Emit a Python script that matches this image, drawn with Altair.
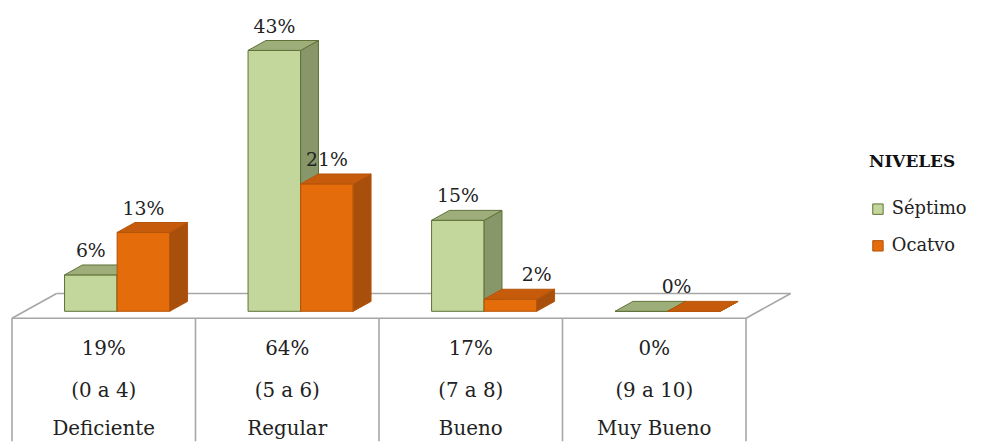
import altair as alt
import pandas as pd

# ---------------- data ----------------
categories = ["Deficiente", "Regular", "Bueno", "Muy Bueno"]
ranges = ["(0 a 4)", "(5 a 6)", "(7 a 8)", "(9 a 10)"]
totals = ["19%", "64%", "17%", "0%"]
series = ["Séptimo", "Ocatvo"]
septimo = [6, 43, 15, 0]
ocatvo = [13, 21, 2, 0]

# ---------------- layout constants ----------------
W, H = 994, 435
PX_X = 185.0                 # pixels per category slot
PX_Y = 263.0 / 43.0          # pixels per percentage point
X0_PAGE = 12.0               # page x of the table's left edge
Y0_PAGE = 312.0              # page y of the bars' base
x_dom = [(8 - X0_PAGE) / PX_X, (8 + W - X0_PAGE) / PX_X]
y_dom = [(Y0_PAGE - (8 + H)) / PX_Y, (Y0_PAGE - 8) / PX_Y]

BAR_OFF = 53 / PX_X
BAR_W = 53 / PX_X
DEPTH_X = 18 / PX_X
DEPTH_Y = 10 / PX_Y
FLOOR_FRONT = (Y0_PAGE - 319) / PX_Y
FLOOR_BACK = (Y0_PAGE - 294) / PX_Y
FLOOR_SHIFT = 45 / PX_X
ROW_Y = [(Y0_PAGE - 350) / PX_Y, (Y0_PAGE - 392) / PX_Y, (Y0_PAGE - 431) / PX_Y]

FRONT = ["#C3D69B", "#E46C0A"]
SIDE = ["#87976A", "#A84F0B"]
TOP = ["#9DAE7B", "#C65C0B"]
EDGE = ["#5E7036", "#B4540A"]
GRID = "#A6A6A6"
TXT = "#222222"
FONT = "DejaVu Serif"

xs = alt.Scale(domain=x_dom, nice=False, zero=False)
ys = alt.Scale(domain=y_dom, nice=False, zero=False)

# bar table
rows = []
for i, c in enumerate(categories):
    for j, (s, vals) in enumerate(zip(series, [septimo, ocatvo])):
        rows.append({"cat": c, "ci": i, "series": s, "sj": j, "value": vals[i]})
bars = pd.DataFrame(rows)

table = pd.DataFrame({"cat": categories, "ci": list(range(len(categories))),
                      "total": totals, "range": ranges})

n = len(categories)
floor_edges = pd.DataFrame([
    {"xa": 0, "ya": FLOOR_FRONT, "xb": n, "yb": FLOOR_FRONT},
    {"xa": FLOOR_SHIFT, "ya": FLOOR_BACK, "xb": n + FLOOR_SHIFT, "yb": FLOOR_BACK},
    {"xa": 0, "ya": FLOOR_FRONT, "xb": FLOOR_SHIFT, "yb": FLOOR_BACK},
    {"xa": n, "ya": FLOOR_FRONT, "xb": n + FLOOR_SHIFT, "yb": FLOOR_BACK},
])

floor = alt.Chart(floor_edges).mark_rule(color=GRID, strokeWidth=1.6).encode(
    x=alt.X("xa:Q", scale=xs, axis=None), y=alt.Y("ya:Q", scale=ys, axis=None),
    x2="xb:Q", y2="yb:Q")

cols = alt.Chart(alt.sequence(0, n + 1, as_="col")).transform_calculate(
    ya=str(FLOOR_FRONT), yb=str(y_dom[0])
).mark_rule(color=GRID, strokeWidth=1.6).encode(
    x=alt.X("col:Q", scale=xs, axis=None), y=alt.Y("ya:Q", scale=ys, axis=None), y2="yb:Q")

def table_row(field, yv):
    return alt.Chart(table).transform_calculate(
        tx="datum.ci + 0.5", ty=str(yv)
    ).mark_text(font=FONT, fontSize=20, color=TXT, baseline="middle", align="center").encode(
        x=alt.X("tx:Q", scale=xs, axis=None), y=alt.Y("ty:Q", scale=ys, axis=None),
        text=f"{field}:N")

layers = [floor, cols,
          table_row("total", ROW_Y[0]), table_row("range", ROW_Y[1]), table_row("cat", ROW_Y[2])]

base = alt.Chart(bars).transform_calculate(
    x0=f"datum.ci + {BAR_OFF} + datum.sj * {BAR_W}"
).transform_calculate(
    x1=f"datum.x0 + {BAR_W}"
)

for j, s in enumerate(series):
    b = base.transform_filter(f"datum.sj == {j}")
    front = b.transform_calculate(zero="0").mark_rect(strokeWidth=1).encode(
        x=alt.X("x0:Q", scale=xs, axis=None), x2="x1:Q",
        y=alt.Y("zero:Q", scale=ys, axis=None), y2="value:Q",
        fill=alt.Fill("series:N", scale=alt.Scale(domain=series, range=FRONT),
                      sort=series, title="NIVELES"),
        stroke=alt.Stroke("series:N", scale=alt.Scale(domain=series, range=EDGE),
                          sort=series, title="NIVELES"),
    )
    two = b.transform_calculate(k="[0, 1]").transform_flatten(["k"])
    side = two.transform_calculate(
        sx=f"datum.x1 + datum.k * {DEPTH_X}",
        st=f"datum.value + datum.k * {DEPTH_Y}",
        sb=f"datum.k * {DEPTH_Y}",
    ).mark_area(orient="vertical", fill=SIDE[j], stroke=EDGE[j], strokeWidth=1).encode(
        x=alt.X("sx:Q", scale=xs, axis=None),
        y=alt.Y("st:Q", scale=ys, axis=None), y2="sb:Q",
        detail="cat:N")
    top = two.transform_calculate(
        ta=f"datum.x0 + datum.k * {DEPTH_X}",
        tb=f"datum.x1 + datum.k * {DEPTH_X}",
        ty=f"datum.value + datum.k * {DEPTH_Y}",
    ).mark_area(orient="horizontal", fill=TOP[j], stroke=EDGE[j], strokeWidth=1).encode(
        y=alt.Y("ty:Q", scale=ys, axis=None),
        x=alt.X("ta:Q", scale=xs, axis=None), x2="tb:Q",
        detail="cat:N")
    layers += [front, side, top]

labels = base.transform_filter("datum.value > 0 || datum.sj == 1").transform_calculate(
    lx=f"datum.value == 0 ? datum.ci + {BAR_OFF} + {BAR_W} + {DEPTH_X / 2} : "
       f"(datum.value < 5 ? datum.x1 : datum.x0 + {BAR_W / 2})",
    ly=f"datum.value + {DEPTH_Y}",
    lt="datum.value + '%'",
).mark_text(font=FONT, fontSize=19, color=TXT, baseline="bottom", align="center", dy=-4).encode(
    x=alt.X("lx:Q", scale=xs, axis=None), y=alt.Y("ly:Q", scale=ys, axis=None), text="lt:N")
layers.append(labels)

chart = alt.layer(*layers).properties(
    width=W, height=H, autosize=alt.AutoSizeParams(type="none"), padding=0,
    background="white"
).configure_view(stroke=None).configure_legend(
    orient="none", legendX=868, legendY=146,
    titleFont=FONT, titleFontSize=17, titleFontWeight="bold", titleColor="#111111",
    titlePadding=29, labelFont=FONT, labelFontSize=18, labelColor=TXT,
    symbolType="square", symbolSize=110, symbolStrokeWidth=1, rowPadding=19,
    labelOffset=5,
)

chart.save("out.html", embed_options={"renderer": "svg", "actions": False})
